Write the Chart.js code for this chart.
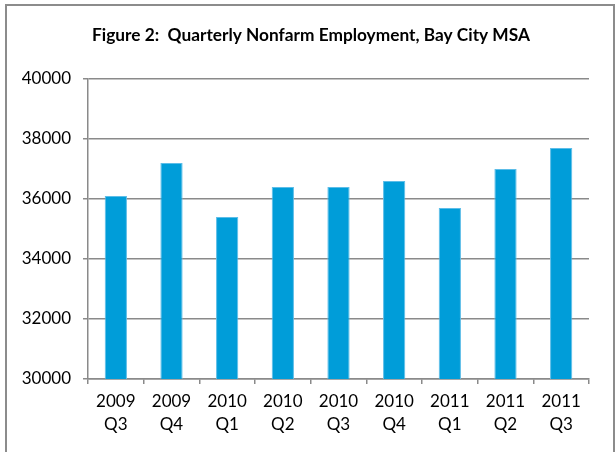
<!DOCTYPE html>
<html>
<head>
<meta charset="utf-8">
<script src="https://cdn.jsdelivr.net/npm/chart.js@4.4.1/dist/chart.umd.min.js"></script>
<style>
  html, body { margin: 0; padding: 0; background: #fff; }
  #wrap { position: relative; width: 615px; height: 452px; overflow: hidden; }
  #frame { position: absolute; left: 5px; top: 4px; width: 606px; height: 470px;
           border: 2px solid #8c8c8c; pointer-events: none; }
  canvas { position: absolute; left: 0; top: 0; }
</style>
</head>
<body>
<div id="wrap">
  <canvas id="chart" width="615" height="452"></canvas>
  <div id="frame"></div>
</div>
<script>
const quarters = [['2009', 'Q3'], ['2009', 'Q4'], ['2010', 'Q1'], ['2010', 'Q2'], ['2010', 'Q3'],
                  ['2010', 'Q4'], ['2011', 'Q1'], ['2011', 'Q2'], ['2011', 'Q3']];
const employment = [36100, 37200, 35400, 36400, 36400, 36600, 35700, 37000, 37700];
const yTicks = [30000, 32000, 34000, 36000, 38000, 40000];
const chartTitle = 'Figure 2:  Quarterly Nonfarm Employment, Bay City MSA';

const ctx = document.getElementById('chart').getContext('2d');
const gridColor = '#8a8a8a';

// title sits centred on the frame, not on the plot, so draw it ourselves
const titlePlugin = {
    id: 'frameTitle',
    afterDraw(chart) {
        const c = chart.ctx;
        c.save();
        c.font = 'bold 17.3px Lato';
        c.fillStyle = '#000';
        c.textAlign = 'center';
        c.textBaseline = 'middle';
        c.fillText(chartTitle, 311, 35);
        c.restore();
    }
};

const chart = new Chart(ctx, {
    type: 'bar',
    data: {
        labels: quarters,
        datasets: [{
            label: 'Nonfarm Employment',
            data: employment,
            backgroundColor: '#009dd9',
            borderColor: '#5cbde8',
            borderWidth: 1,
            categoryPercentage: 1,
            barPercentage: 0.4
        }]
    },
    options: {
        responsive: false,
        animation: false,
        layout: { padding: { left: 0, right: 26, top: 79, bottom: 0 } },
        plugins: {
            legend: { display: false },
            tooltip: { enabled: false },
            title: { display: false }
        },
        scales: {
            x: {
                grid: {
                    offset: true,
                    drawOnChartArea: false,
                    drawTicks: true,
                    tickLength: 5,
                    color: gridColor,
                    lineWidth: 1.5
                },
                border: { color: gridColor, width: 1.5 },
                ticks: {
                    color: '#000',
                    padding: 6,
                    maxRotation: 0,
                    font: { family: 'Lato', size: 17, lineHeight: 1.35 }
                },
                afterFit: (scale) => { scale.height = 73; }
            },
            y: {
                min: 30000,
                max: 40000,
                afterBuildTicks: (scale) => { scale.ticks = yTicks.map(v => ({ value: v })); },
                grid: { color: gridColor, lineWidth: 1.5, tickLength: 5 },
                border: { color: gridColor, width: 1.5 },
                ticks: {
                    color: '#000',
                    padding: 12,
                    font: { family: 'Lato', size: 17 },
                    callback: (v) => String(v)
                },
                afterFit: (scale) => { scale.width = 88; }
            }
        }
    },
    plugins: [titlePlugin]
});
</script>
</body>
</html>
